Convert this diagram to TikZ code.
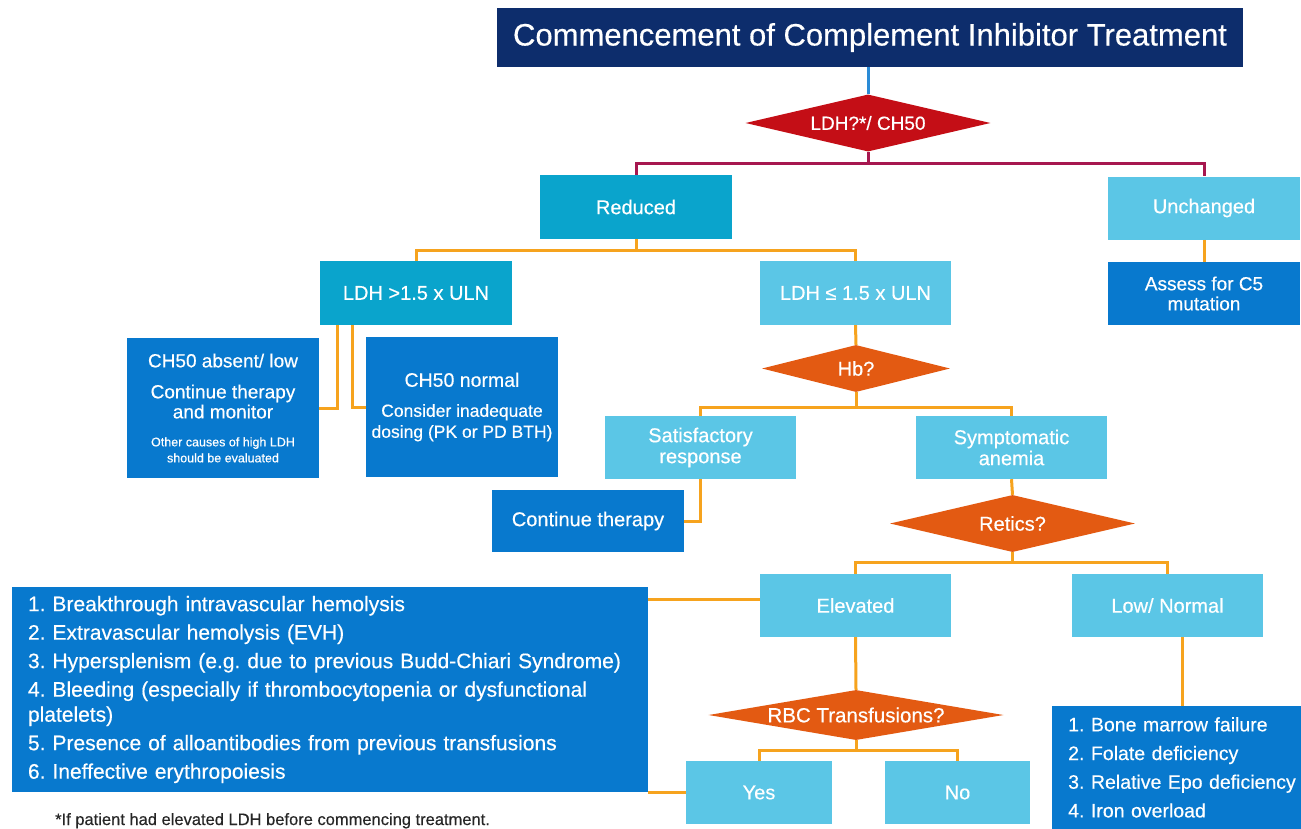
\documentclass[tikz,border=0pt]{standalone}
\usepackage{fontspec}
\setmainfont{Liberation Sans}[FakeBold=0.4]
\usepackage{tikz}
\usetikzlibrary{shapes.geometric, positioning}

\definecolor{navyhead}{RGB}{13,45,108}
\definecolor{redhead}{RGB}{196,14,22}
\definecolor{lineplum}{RGB}{166,23,79}
\definecolor{lineblue}{RGB}{42,139,214}
\definecolor{lineamber}{RGB}{246,163,30}
\definecolor{boxteal}{RGB}{10,164,204}
\definecolor{boxsky}{RGB}{91,198,230}
\definecolor{boxblue}{RGB}{8,121,206}
\definecolor{diaorange}{RGB}{227,90,18}

\frenchspacing

\begin{document}
\begin{tikzpicture}[x=1pt,y=-1pt]

    % Define styles
    \tikzstyle{header} = [rectangle, fill=navyhead, text=white, minimum width=746pt, minimum height=59pt, font=\fontsize{31}{34}\selectfont]
    \tikzstyle{tealbox} = [rectangle, fill=boxteal, text=white, align=center, minimum width=192pt, minimum height=64pt, font=\fontsize{20}{21}\selectfont]
    \tikzstyle{skybox} = [rectangle, fill=boxsky, text=white, align=center, minimum width=191pt, minimum height=63pt, font=\fontsize{20}{21}\selectfont]
    \tikzstyle{bluebox} = [rectangle, fill=boxblue, text=white, align=center, minimum width=192pt, minimum height=63pt, font=\fontsize{19}{20}\selectfont]
    \tikzstyle{listbox} = [rectangle, fill=boxblue, text=white, align=left, inner xsep=16pt]
    \tikzstyle{decision} = [diamond, inner sep=0pt, text=white, fill=diaorange, font=\fontsize{20}{22}\selectfont]
    \tikzstyle{redline} = [draw=lineplum, line width=3pt]
    \tikzstyle{orangeline} = [draw=lineamber, line width=3pt]

    \useasboundingbox (0,0) rectangle (1301,828);
    \fill[white] (0,0) rectangle (1301,828);
    \clip (0,0) rectangle (1301,828);

    % Top
    \node[header] (title) at (870,37.5) {Commencement of Complement Inhibitor Treatment};
    \node[decision, fill=redhead, aspect=4.3, minimum width=245pt, minimum height=57pt, font=\fontsize{19}{21}\selectfont] (ldh) at (868,123) {LDH?*/ CH50};

    % LDH / CH50 outcome
    \node[tealbox] (reduced) at (636,207) {Reduced};
    \node[skybox, minimum width=192pt] (unchanged) at (1204,208) {Unchanged};
    \node[bluebox] (assess) at (1204,293.5) {Assess for C5\\mutation};

    % Reduced branch
    \node[tealbox] (ldhhigh) at (416,293) {LDH >1.5 x ULN};
    \node[skybox, minimum height=64pt] (ldhlow) at (855.5,293) {LDH ≤ 1.5 x ULN};

    \node[bluebox, minimum height=140pt, font=\fontsize{19}{21}\selectfont] (absent) at (223,408) {CH50 absent/ low\\[10pt]Continue therapy\\[-1pt]and monitor\\[7pt]{\fontsize{12.5}{15}\selectfont Other causes of high LDH}\\[-5pt]{\fontsize{12.5}{15}\selectfont should be evaluated}};
    \node[bluebox, minimum height=140pt, font=\fontsize{17.5}{21}\selectfont] (normal) at (462,407) {{\fontsize{19.5}{21}\selectfont CH50 normal}\\[9pt]Consider inadequate\\[0pt]dosing (PK or PD BTH)};

    % Hb
    \node[decision, aspect=4, minimum width=188pt, minimum height=47pt] (hb) at (856,368.5) {Hb?};
    \node[skybox] (satis) at (700.5,447.5) {Satisfactory\\response};
    \node[skybox] (sympt) at (1011.5,447.5) {Symptomatic\\anemia};
    \node[bluebox, minimum height=62pt, font=\fontsize{20}{22}\selectfont] (cont) at (588,521) {Continue therapy};

    % Retics
    \node[decision, aspect=4.3, minimum width=245pt, minimum height=57pt] (retics) at (1012.5,523.5) {Retics?};
    \node[skybox] (elevated) at (855.5,605.5) {Elevated};
    \node[skybox] (lownorm) at (1167.5,605.5) {Low/ Normal};

    \node[listbox, minimum width=636pt, minimum height=205pt, text width=604pt, font=\fontsize{21}{25}\selectfont] (causes) at (330,689.5) {1. Breakthrough intravascular hemolysis\\[3.5pt]
        2. Extravascular hemolysis (EVH)\\[3.5pt]
        3. Hypersplenism (e.g. due to previous Budd-Chiari Syndrome)\\[3.5pt]
        4. Bleeding (especially if thrombocytopenia or dysfunctional\\
        platelets)\\[3.5pt]
        5. Presence of alloantibodies from previous transfusions\\[3.5pt]
        6. Ineffective erythropoiesis};

    % RBC transfusions
    \node[decision, aspect=5.9, minimum width=295pt, minimum height=50pt, font=\fontsize{20.5}{22}\selectfont] (rbc) at (856,715) {RBC Transfusions?};
    \node[skybox, minimum width=146pt] (yes) at (759,792.5) {Yes};
    \node[skybox, minimum width=145pt] (no) at (957.5,792.5) {No};

    \node[listbox, anchor=north west, inner ysep=11pt, text width=300pt, font=\fontsize{19.5}{28.7}\selectfont] (marrow) at (1052,706) {1. Bone marrow failure\\
        2. Folate deficiency\\
        3. Relative Epo deficiency\\
        4. Iron overload};

    \node[anchor=base west, text=black!85, font=\fontsize{16.5}{18}\selectfont, inner sep=0pt] (note) at (55,825) {*If patient had elevated LDH before commencing treatment.};

    % Connectors
    \coordinate (ldhbar) at (868,163);
    \coordinate (redbar) at (636,250);
    \coordinate (hbbar) at (856,407);
    \coordinate (reticsbar) at (1012.5,562);
    \coordinate (rbcbar) at (856,750);

    \draw[draw=lineblue, line width=3pt] (ldh.north) -- (ldh.north |- title.south);
    \draw[redline] (ldh.south) -- (ldhbar);
    \draw[redline] (reduced.north) |- (ldhbar) -| (unchanged.north);

    \draw[orangeline] (unchanged.south) -- (assess.north);
    \draw[orangeline] (reduced.south) -- (redbar);
    \draw[orangeline] (ldhhigh.north) |- (redbar) -| (ldhlow.north);
    \draw[orangeline] ([xshift=-79pt]ldhhigh.south) |- (absent.east);
    \draw[orangeline] ([xshift=-64pt]ldhhigh.south) |- (normal.west);

    \draw[orangeline] (ldhlow.south) -- (hb.north);
    \draw[orangeline] (hb.south) -- (hbbar);
    \draw[orangeline] (satis.north) |- (hbbar) -| (sympt.north);
    \draw[orangeline] (satis.south) |- (cont.east);

    \draw[orangeline] (sympt.south) -- (retics.north);
    \draw[orangeline] (retics.south) -- (reticsbar);
    \draw[orangeline] (elevated.north) |- (reticsbar) -| (lownorm.north);
    \draw[orangeline] ([yshift=6pt]elevated.west) -- ([yshift=6pt]elevated.west -| causes.east);
    \draw[orangeline] ([xshift=15pt]lownorm.south) -- ([xshift=15pt]lownorm.south |- marrow.north);

    \draw[orangeline] (elevated.south) -- (rbc.north);
    \draw[orangeline] (rbc.south) -- (rbcbar);
    \draw[orangeline] (yes.north) |- (rbcbar) -| (no.north);
    \draw[orangeline] (yes.west) -- (yes.west -| causes.east);

\end{tikzpicture}
\end{document}
